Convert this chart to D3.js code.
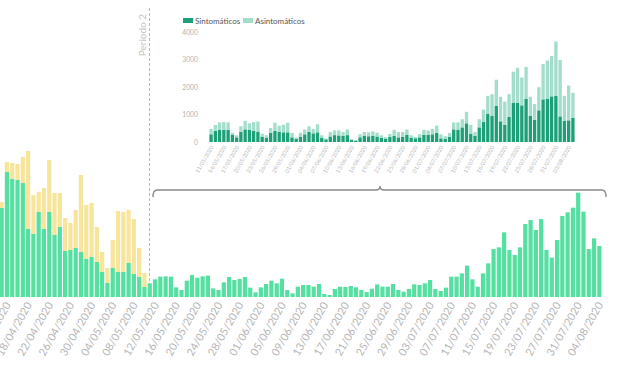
<!DOCTYPE html>
<html><head><meta charset="utf-8">
<script src="https://cdn.jsdelivr.net/npm/d3@7"></script>
<style>html,body{margin:0;padding:0;background:#fff;} svg{display:block;}</style>
</head><body>
<svg id="c" width="620" height="368"></svg>
<script>
// ---------- DATA ----------
const firstDay = "2020-04-13";   // first visible bar
const lastDay  = "2020-08-04";   // last bar
const periodo2Day = "2020-05-11"; // start of inset / Periodo 2

const sintomaticos = [
  3115,4375,4130,4095,3990,2380,2205,2975,2380,2975,2170,2450,1610,1645,1715,1575,1330,1400,1225,875,490,1015,875,875,1190,805,700,350,
  280,400,436,448,436,255,170,376,460,436,412,376,194,158,339,400,376,352,352,170,109,194,279,364,315,352,158,97,200,250,
  240,220,250,70,50,170,220,210,230,200,150,120,180,218,170,194,255,158,133,170,255,255,280,340,133,109,194,460,436,533,
  680,290,230,533,727,1030,945,1321,752,618,909,1418,1430,1333,1564,945,812,1152,1551,1576,1660,1673,933,764,788,873
];
const asintomaticos = [
  210,350,560,560,910,2730,1365,700,1435,1820,1470,1190,1155,945,1330,2695,1890,1890,1225,700,525,980,2135,2100,1855,1925,1015,490,
  198,218,276,275,276,83,75,196,310,241,311,371,109,87,174,300,219,278,348,157,54,144,176,208,163,290,87,31,162,170,
  180,142,205,35,20,110,142,140,155,138,95,55,112,225,192,168,200,87,54,110,188,165,198,255,147,101,133,252,276,295,
  417,328,132,295,451,650,793,942,893,852,829,1137,1265,1012,1166,700,565,843,1284,1387,1467,1979,2054,916,1265,912
];
const mainTickLabels = ["14/04/2020","18/04/2020","22/04/2020","26/04/2020","30/04/2020","04/05/2020","08/05/2020","12/05/2020",
  "16/05/2020","20/05/2020","24/05/2020","28/05/2020","01/06/2020","05/06/2020","09/06/2020","13/06/2020","17/06/2020",
  "21/06/2020","25/06/2020","29/06/2020","03/07/2020","07/07/2020","11/07/2020","15/07/2020","19/07/2020","23/07/2020",
  "27/07/2020","31/07/2020","04/08/2020"];
const insetTickLabels = ["11/05/2020","14/05/2020","17/05/2020","20/05/2020","23/05/2020","26/05/2020","29/05/2020",
  "01/06/2020","04/06/2020","07/06/2020","10/06/2020","13/06/2020","16/06/2020","19/06/2020","22/06/2020","25/06/2020",
  "28/06/2020","01/07/2020","04/07/2020","07/07/2020","10/07/2020","13/07/2020","16/07/2020","19/07/2020","22/07/2020",
  "25/07/2020","28/07/2020","31/07/2020","03/08/2020"];
const insetYTicks = [0,1000,2000,3000,4000];
const seriesNames = ["Sintomáticos","Asintomáticos"];

// ---------- BUILD ----------
const parse = d3.timeParse("%Y-%m-%d");
const fmt = d3.timeFormat("%d/%m/%Y");
const days = d3.timeDay.range(parse(firstDay), d3.timeDay.offset(parse(lastDay),1));
const rows = days.map((d,i)=>({key:fmt(d), date:d, s:sintomaticos[i], a:asintomaticos[i]}));
const p2 = parse(periodo2Day);
const rows1 = rows.filter(r=>r.date < p2);
const rows2 = rows.filter(r=>r.date >= p2);

const svg = d3.select("#c");
const FONT = "Lato, 'Open Sans', sans-serif";
const C = {green:"#55e0a2", yellow:"#f7e59c", dark:"#1d9f78", light:"#a3ddcb", axis:"#b4b4b4"};

// main chart
const x = d3.scaleBand().domain(rows.map(r=>r.key)).range([-1,602]).paddingInner(0.2).paddingOuter(0.1);
const y = d3.scaleLinear().domain([0,4000]).range([297, 297-4000/35]);
const main = svg.append("g");
const st1 = d3.stack().keys(["s","a"])(rows1);
main.selectAll("g.s1").data(st1).join("g").attr("fill",(d,i)=>i?C.yellow:C.green)
  .selectAll("rect").data(d=>d).join("rect")
  .attr("x",d=>x(d.data.key)).attr("width",x.bandwidth())
  .attr("y",d=>y(d[1])).attr("height",d=>y(d[0])-y(d[1]));
main.append("g").attr("fill",C.green).selectAll("rect").data(rows2).join("rect")
  .attr("x",d=>x(d.key)).attr("width",x.bandwidth())
  .attr("y",d=>y(d.s+d.a)).attr("height",d=>y(0)-y(d.s+d.a));
const mainAxis = d3.axisBottom(x).tickValues(mainTickLabels).tickSize(0).tickPadding(0);
const gx = main.append("g").attr("transform","translate(0,297)").call(mainAxis);
gx.select(".domain").remove();
gx.selectAll("text").attr("fill",C.axis).attr("font-family",FONT).attr("font-size",10.8)
  .attr("text-anchor","end").attr("dy","0.35em").attr("y",0)
  .attr("transform","translate(1,6) rotate(-60)");

// Periodo 2 annotation
svg.append("line").attr("x1",149.5).attr("x2",149.5).attr("y1",8).attr("y2",292)
  .attr("stroke","#b8b8b8").attr("stroke-width",1).attr("stroke-dasharray","3,2");
svg.append("text").attr("transform","translate(145.5,35) rotate(-90)").attr("text-anchor","middle")
  .attr("font-family",FONT).attr("font-size",10).attr("fill","#c4c4c4").text("Periodo 2");
// bracket
const bx0 = 153, bx1 = 606, by = 190, bm = 380;
const bp = d3.path();
bp.moveTo(bx0, by+7); bp.quadraticCurveTo(bx0, by, bx0+4, by);
bp.lineTo(bm-4, by); bp.quadraticCurveTo(bm, by, bm, by-4); bp.quadraticCurveTo(bm, by, bm+4, by);
bp.lineTo(bx1-4, by); bp.quadraticCurveTo(bx1, by, bx1, by+7);
svg.append("path").attr("d",bp.toString()).attr("fill","none").attr("stroke","#8a8a8a").attr("stroke-width",1.4);

// inset chart
const ix = d3.scaleBand().domain(rows2.map(r=>r.key)).range([209,575]).paddingInner(0.22).paddingOuter(0.1);
const iy = d3.scaleLinear().domain([0,4000]).range([142,32]);
const inset = svg.append("g");
const st2 = d3.stack().keys(["s","a"])(rows2);
inset.selectAll("g.s2").data(st2).join("g").attr("fill",(d,i)=>i?C.light:C.dark)
  .selectAll("rect").data(d=>d).join("rect")
  .attr("x",d=>ix(d.data.key)).attr("width",ix.bandwidth())
  .attr("y",d=>iy(d[1])).attr("height",d=>iy(d[0])-iy(d[1]));
const gy = inset.append("g").attr("transform","translate(198,0)")
  .call(d3.axisLeft(iy).tickValues(insetYTicks).tickSize(0).tickPadding(0).tickFormat(d3.format("d")));
gy.select(".domain").remove();
gy.selectAll("text").attr("fill","#b4b4b4").attr("font-family",FONT).attr("font-size",6.8);
const gix = inset.append("g").attr("transform","translate(0,143)")
  .call(d3.axisBottom(ix).tickValues(insetTickLabels).tickSize(0).tickPadding(0));
gix.select(".domain").remove();
gix.selectAll("text").attr("fill","#b4b4b4").attr("font-family",FONT).attr("font-size",5.5)
  .attr("text-anchor","end").attr("dy","0.35em").attr("y",0)
  .attr("transform","translate(1,3) rotate(-60)");

// legend
const lg = svg.append("g").attr("transform","translate(183,18)");
const legendItems = seriesNames.map((n,i)=>({n, c:i?C.light:C.dark}));
legendItems.forEach((d,i)=>{
  const g = lg.append("g").attr("transform",`translate(${i?60:0},0)`);
  g.append("rect").attr("width",10).attr("height",5).attr("y",0).attr("fill",d.c);
  g.append("text").attr("x",12).attr("y",5.5).attr("font-family",FONT).attr("font-size",8).attr("fill","#555").text(d.n);
});
</script>
</body></html>
